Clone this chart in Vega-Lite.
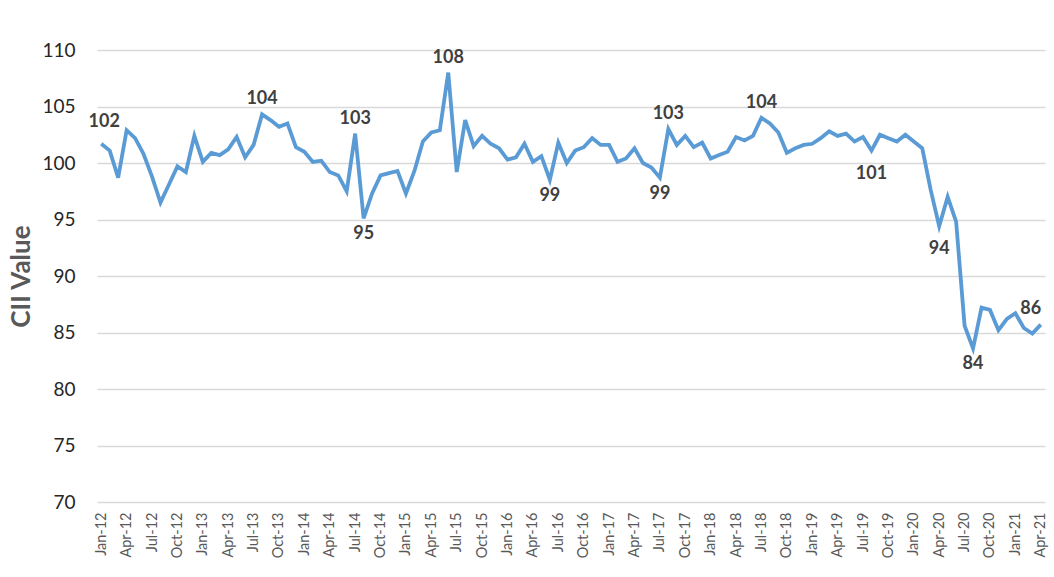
{
  "$schema": "https://vega.github.io/schema/vega-lite/v6.json",
  "width": 948,
  "height": 452,
  "autosize": "none",
  "padding": {"left": 97, "top": 50, "right": 9, "bottom": 75},
  "background": "white",
  "data": {
    "values": [
      {"month": "Jan-12", "cii": 101.7}, {"month": "Feb-12", "cii": 101.1}, {"month": "Mar-12", "cii": 98.7},
      {"month": "Apr-12", "cii": 102.9}, {"month": "May-12", "cii": 102.2}, {"month": "Jun-12", "cii": 100.8},
      {"month": "Jul-12", "cii": 98.8}, {"month": "Aug-12", "cii": 96.5}, {"month": "Sep-12", "cii": 98.1},
      {"month": "Oct-12", "cii": 99.7}, {"month": "Nov-12", "cii": 99.2}, {"month": "Dec-12", "cii": 102.4},
      {"month": "Jan-13", "cii": 100.1}, {"month": "Feb-13", "cii": 100.9}, {"month": "Mar-13", "cii": 100.7},
      {"month": "Apr-13", "cii": 101.2}, {"month": "May-13", "cii": 102.3}, {"month": "Jun-13", "cii": 100.5},
      {"month": "Jul-13", "cii": 101.6}, {"month": "Aug-13", "cii": 104.3}, {"month": "Sep-13", "cii": 103.8},
      {"month": "Oct-13", "cii": 103.2}, {"month": "Nov-13", "cii": 103.5}, {"month": "Dec-13", "cii": 101.4},
      {"month": "Jan-14", "cii": 101.0}, {"month": "Feb-14", "cii": 100.1}, {"month": "Mar-14", "cii": 100.2},
      {"month": "Apr-14", "cii": 99.2}, {"month": "May-14", "cii": 98.9}, {"month": "Jun-14", "cii": 97.5},
      {"month": "Jul-14", "cii": 102.6}, {"month": "Aug-14", "cii": 95.1}, {"month": "Sep-14", "cii": 97.3},
      {"month": "Oct-14", "cii": 98.9}, {"month": "Nov-14", "cii": 99.1}, {"month": "Dec-14", "cii": 99.3},
      {"month": "Jan-15", "cii": 97.3}, {"month": "Feb-15", "cii": 99.3}, {"month": "Mar-15", "cii": 101.9},
      {"month": "Apr-15", "cii": 102.7}, {"month": "May-15", "cii": 102.9}, {"month": "Jun-15", "cii": 108.0},
      {"month": "Jul-15", "cii": 99.2}, {"month": "Aug-15", "cii": 103.8}, {"month": "Sep-15", "cii": 101.5},
      {"month": "Oct-15", "cii": 102.4}, {"month": "Nov-15", "cii": 101.7}, {"month": "Dec-15", "cii": 101.3},
      {"month": "Jan-16", "cii": 100.3}, {"month": "Feb-16", "cii": 100.5}, {"month": "Mar-16", "cii": 101.7},
      {"month": "Apr-16", "cii": 100.1}, {"month": "May-16", "cii": 100.6}, {"month": "Jun-16", "cii": 98.5},
      {"month": "Jul-16", "cii": 101.8}, {"month": "Aug-16", "cii": 100.0}, {"month": "Sep-16", "cii": 101.1},
      {"month": "Oct-16", "cii": 101.4}, {"month": "Nov-16", "cii": 102.2}, {"month": "Dec-16", "cii": 101.6},
      {"month": "Jan-17", "cii": 101.6}, {"month": "Feb-17", "cii": 100.1}, {"month": "Mar-17", "cii": 100.4},
      {"month": "Apr-17", "cii": 101.3}, {"month": "May-17", "cii": 100.0}, {"month": "Jun-17", "cii": 99.6},
      {"month": "Jul-17", "cii": 98.7}, {"month": "Aug-17", "cii": 103.0}, {"month": "Sep-17", "cii": 101.6},
      {"month": "Oct-17", "cii": 102.4}, {"month": "Nov-17", "cii": 101.4}, {"month": "Dec-17", "cii": 101.8},
      {"month": "Jan-18", "cii": 100.4}, {"month": "Feb-18", "cii": 100.7}, {"month": "Mar-18", "cii": 101.0},
      {"month": "Apr-18", "cii": 102.3}, {"month": "May-18", "cii": 102.0}, {"month": "Jun-18", "cii": 102.4},
      {"month": "Jul-18", "cii": 104.0}, {"month": "Aug-18", "cii": 103.5}, {"month": "Sep-18", "cii": 102.7},
      {"month": "Oct-18", "cii": 100.9}, {"month": "Nov-18", "cii": 101.3}, {"month": "Dec-18", "cii": 101.6},
      {"month": "Jan-19", "cii": 101.7}, {"month": "Feb-19", "cii": 102.2}, {"month": "Mar-19", "cii": 102.8},
      {"month": "Apr-19", "cii": 102.4}, {"month": "May-19", "cii": 102.6}, {"month": "Jun-19", "cii": 101.9},
      {"month": "Jul-19", "cii": 102.3}, {"month": "Aug-19", "cii": 101.1}, {"month": "Sep-19", "cii": 102.5},
      {"month": "Oct-19", "cii": 102.2}, {"month": "Nov-19", "cii": 101.9}, {"month": "Dec-19", "cii": 102.5},
      {"month": "Jan-20", "cii": 101.9}, {"month": "Feb-20", "cii": 101.3}, {"month": "Mar-20", "cii": 97.6},
      {"month": "Apr-20", "cii": 94.4}, {"month": "May-20", "cii": 97.0}, {"month": "Jun-20", "cii": 94.8},
      {"month": "Jul-20", "cii": 85.6}, {"month": "Aug-20", "cii": 83.6}, {"month": "Sep-20", "cii": 87.2},
      {"month": "Oct-20", "cii": 87.0}, {"month": "Nov-20", "cii": 85.2}, {"month": "Dec-20", "cii": 86.2},
      {"month": "Jan-21", "cii": 86.7}, {"month": "Feb-21", "cii": 85.4}, {"month": "Mar-21", "cii": 84.9},
      {"month": "Apr-21", "cii": 85.7}
    ]
  },
  "encoding": {
    "x": {
      "field": "month",
      "type": "ordinal",
      "sort": null,
      "scale": {"type": "point", "padding": 0.5},
      "title": null,
      "axis": {
        "values": ["Jan-12", "Apr-12", "Jul-12", "Oct-12", "Jan-13", "Apr-13", "Jul-13", "Oct-13",
                   "Jan-14", "Apr-14", "Jul-14", "Oct-14", "Jan-15", "Apr-15", "Jul-15", "Oct-15",
                   "Jan-16", "Apr-16", "Jul-16", "Oct-16", "Jan-17", "Apr-17", "Jul-17", "Oct-17",
                   "Jan-18", "Apr-18", "Jul-18", "Oct-18", "Jan-19", "Apr-19", "Jul-19", "Oct-19",
                   "Jan-20", "Apr-20", "Jul-20", "Oct-20", "Jan-21", "Apr-21"],
        "labelAngle": -90,
        "labelAlign": "right",
        "labelBaseline": "middle",
        "labelFontSize": 14.5,
        "labelColor": "#595959",
        "labelPadding": 10,
        "ticks": false,
        "domain": false,
        "grid": false
      }
    },
    "y": {
      "field": "cii",
      "type": "quantitative",
      "title": "CII Value",
      "scale": {"domain": [70, 110], "zero": false, "nice": false},
      "axis": {
        "values": [70, 75, 80, 85, 90, 95, 100, 105, 110],
        "labelFontSize": 19,
        "labelColor": "#262626",
        "labelPadding": 22,
        "ticks": false,
        "domain": false,
        "gridColor": "#d9d9d9",
        "gridWidth": 1.3,
        "titleFontSize": 26,
        "titleFontWeight": "bold",
        "titleColor": "#595959",
        "titlePadding": 7
      }
    }
  },
  "layer": [
    {
      "mark": {"type": "line", "color": "#5b9bd5", "strokeWidth": 3.8, "strokeJoin": "miter"}
    },
    {
      "transform": [{"filter": {"field": "month", "oneOf": ["Aug-13", "Jul-14", "Jun-15", "Aug-17", "Jul-18"]}}],
      "mark": {"type": "text", "dy": -10, "baseline": "alphabetic", "fontSize": 18, "fontWeight": "bold", "color": "#404040"},
      "encoding": {"text": {"field": "cii", "type": "quantitative", "format": ".0f"}}
    },
    {
      "transform": [{"filter": {"field": "month", "oneOf": ["Aug-14", "Jun-16", "Jul-17", "Aug-20"]}}],
      "mark": {"type": "text", "dy": 21, "baseline": "alphabetic", "fontSize": 18, "fontWeight": "bold", "color": "#404040"},
      "encoding": {"text": {"field": "cii", "type": "quantitative", "format": ".0f"}}
    },
    {
      "transform": [{"filter": {"field": "month", "oneOf": ["Aug-19", "Apr-20"]}}],
      "mark": {"type": "text", "dy": 28, "baseline": "alphabetic", "fontSize": 18, "fontWeight": "bold", "color": "#404040"},
      "encoding": {"text": {"field": "cii", "type": "quantitative", "format": ".0f"}}
    },
    {
      "transform": [{"filter": {"field": "month", "equal": "Jan-12"}}],
      "mark": {"type": "text", "dx": 3, "dy": -17, "baseline": "alphabetic", "fontSize": 18, "fontWeight": "bold", "color": "#404040"},
      "encoding": {"text": {"field": "cii", "type": "quantitative", "format": ".0f"}}
    },
    {
      "transform": [{"filter": {"field": "month", "equal": "Apr-21"}}],
      "mark": {"type": "text", "dx": -10, "dy": -11, "baseline": "alphabetic", "fontSize": 18, "fontWeight": "bold", "color": "#404040"},
      "encoding": {"text": {"field": "cii", "type": "quantitative", "format": ".0f"}}
    }
  ],
  "config": {
    "font": "Lato",
    "view": {"stroke": null}
  }
}
